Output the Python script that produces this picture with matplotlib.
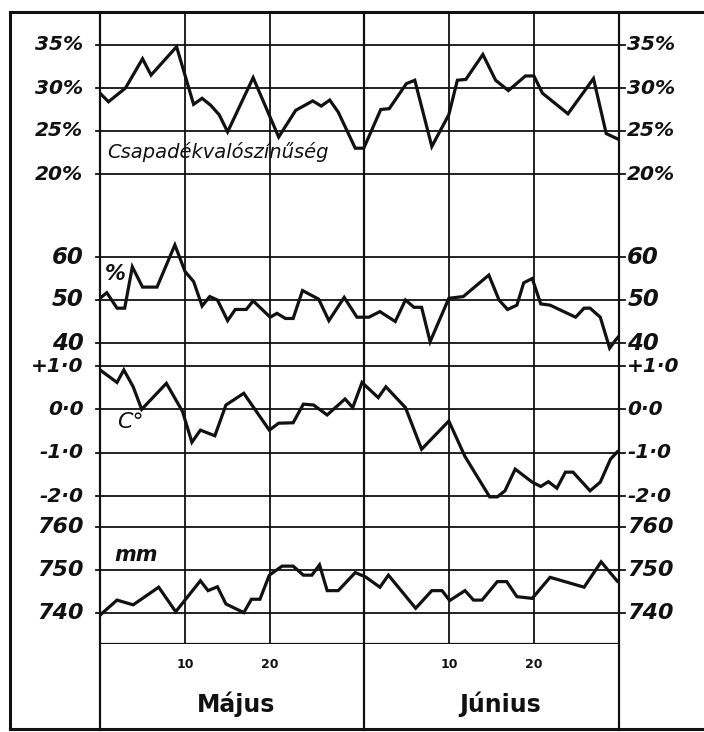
import matplotlib.pyplot as plt
from matplotlib.lines import Line2D

# days counted from 30 April: May 1..31 -> 1..31, June 1..30 -> 32..61
# (vertex positions of the hand-drawn lines)

# precipitation probability (%)
precip_day = [0, 1, 3, 5, 6, 9, 11, 12, 13, 14, 15, 18, 21, 23, 25, 26, 27, 28,
              30, 31, 33, 34, 36, 37, 39, 41, 42, 43, 45, 46.5, 48, 50, 51, 52,
              55, 58, 59.5, 61]
precip_val = [29.4, 28.4, 30.0, 33.4, 31.5, 34.8, 28.1, 28.8, 28.0, 26.9, 24.9,
              31.2, 24.3, 27.4, 28.5, 27.9, 28.6, 27.2, 23.0, 23.0, 27.5, 27.6,
              30.5, 30.9, 23.2, 26.9, 30.9, 31.0, 33.9, 30.9, 29.7, 31.4, 31.4,
              29.4, 27.0, 31.1, 24.7, 24.0]

# relative humidity (%)
hum_day = [0, 0.8, 2.0, 2.9, 3.8, 5.0, 6.7, 8.8, 10.0, 11.0, 12.0, 12.9, 13.8,
           15.0, 15.9, 17.2, 18.0, 20.0, 20.8, 21.8, 22.7, 23.8, 25.7, 26.9,
           28.7, 30.2, 31.6, 32.9, 34.7, 35.9, 36.9, 37.8, 38.8, 41.0, 42.7,
           45.7, 46.9, 47.9, 49.0, 49.8, 50.8, 51.8, 52.9, 55.9, 56.9, 57.6,
           58.8, 59.9, 60.6, 61.0]
hum_val = [50.4, 51.7, 48.1, 48.1, 57.7, 53.0, 53.0, 62.8, 56.6, 54.3, 48.6,
           50.8, 50.0, 45.2, 47.8, 47.8, 49.8, 46.0, 46.9, 45.7, 45.7, 52.2,
           50.2, 45.2, 50.6, 46.0, 46.0, 47.3, 45.0, 50.0, 48.3, 48.3, 40.3,
           50.4, 50.8, 55.8, 50.0, 47.8, 48.8, 54.0, 55.0, 49.1, 48.8, 46.0,
           48.1, 48.1, 46.0, 38.8, 40.7, 41.6]

# temperature anomaly (C)
temp_day = [0, 2.0, 2.8, 3.9, 4.9, 7.8, 9.7, 10.8, 11.8, 13.5, 14.8, 16.9, 19.9,
            21.0, 22.7, 23.9, 25.1, 26.7, 28.8, 29.7, 30.8, 32.7, 33.6, 35.9,
            37.8, 41.0, 42.9, 45.8, 46.7, 47.6, 48.8, 50.8, 51.8, 52.7, 53.7,
            54.7, 55.6, 57.6, 58.8, 60.0, 60.8]
temp_val = [0.91, 0.62, 0.91, 0.52, 0.0, 0.60, -0.05, -0.76, -0.48, -0.61, 0.10,
            0.37, -0.48, -0.32, -0.31, 0.12, 0.10, -0.13, 0.24, 0.04, 0.62, 0.27,
            0.52, 0.04, -0.92, -0.27, -1.09, -2.02, -2.02, -1.88, -1.38, -1.68,
            -1.78, -1.67, -1.82, -1.45, -1.45, -1.88, -1.68, -1.15, -0.98]

# air pressure (mm)
press_day = [0, 2.0, 3.9, 6.9, 8.9, 11.8, 12.7, 13.8, 14.8, 16.9, 17.8, 18.8,
             19.9, 21.4, 22.7, 23.9, 24.9, 25.8, 26.7, 28.0, 30.0, 31.2, 32.9,
             33.9, 37.1, 39.0, 40.2, 41.1, 42.9, 43.9, 44.9, 46.7, 47.8, 49.0,
             50.8, 52.9, 56.9, 58.9, 60.8]
press_val = [739.5, 743.0, 741.9, 746.0, 740.3, 747.5, 745.2, 746.1, 742.1,
             740.1, 743.2, 743.2, 748.8, 750.9, 750.9, 748.8, 748.8, 751.2,
             745.2, 745.2, 749.4, 748.4, 746.0, 748.8, 741.1, 745.2, 745.2,
             742.9, 745.2, 743.0, 743.0, 747.3, 747.3, 743.8, 743.4, 748.3,
             746.0, 751.9, 747.4]

precip_ticks = [35, 30, 25, 20]
precip_labels = ['35%', '30%', '25%', '20%']
hum_ticks = [60, 50, 40]
hum_labels = ['60', '50', '40']
temp_ticks = [1, 0, -1, -2]
temp_labels = ['+1·0', '0·0', '-1·0', '-2·0']
press_ticks = [760, 750, 740]
press_labels = ['760', '750', '740']

day_ticks = [10, 20, 41, 51]
day_labels = ['10', '20', '10', '20']
month_edges = [0, 31, 61]
months = ['Május', 'Június']
month_pos = [16, 47]

# =============================================================================

W, H = 704, 732
left_px, right_px, top_px, bot_px = 100, 619, 12, 644
ink = '#111111'


def band_ylim(v1, y1, v2, y2):
    # y-limits so that value v1 sits on pixel row y1 and v2 on row y2
    scale = (y2 - y1) / (v1 - v2)
    top = v1 + (y1 - top_px) / scale
    bottom = v2 - (bot_px - y2) / scale
    return bottom, top


fig = plt.figure(figsize=(W / 100, H / 100), dpi=100)
ax = fig.add_axes([left_px / W, 1 - bot_px / H,
                   (right_px - left_px) / W, (bot_px - top_px) / H])
ax.set_xlim(0, 61)

ax_h = ax.twinx()
ax_t = ax.twinx()
ax_p = ax.twinx()

# axes, limits, ticks, labels, label size, x, y
panels = [
    (ax, band_ylim(35, 45, 20, 174), precip_ticks, precip_labels, 14.5, precip_day, precip_val),
    (ax_h, band_ylim(60, 257, 40, 343), hum_ticks, hum_labels, 16.5, hum_day, hum_val),
    (ax_t, band_ylim(1, 366, -2, 496), temp_ticks, temp_labels, 14.5, temp_day, temp_val),
    (ax_p, band_ylim(760, 527, 740, 613), press_ticks, press_labels, 16, press_day, press_val),
]

for a, lim, ticks, labels, fs, xs, ys in panels:
    a.set_ylim(*lim)
    a.set_yticks([])
    tr = a.get_yaxis_transform()
    for t, lab in zip(ticks, labels):
        a.axhline(t, xmin=-0.008, xmax=1.012, color=ink, lw=1.3, clip_on=False)
        a.text(-0.032, t, lab, transform=tr, ha='right', va='center',
               fontsize=fs, fontstyle='italic', fontweight='bold', color=ink)
        a.text(1.016, t, lab, transform=tr, ha='left', va='center',
               fontsize=fs, fontstyle='italic', fontweight='bold', color=ink)
    a.plot(xs, ys, color=ink, lw=2.3, solid_joinstyle='miter', zorder=5)
    for s in a.spines.values():
        s.set_visible(False)
    a.patch.set_visible(False)

# day grid
for d in day_ticks:
    ax.axvline(d, color=ink, lw=1.3)
for d in month_edges:
    ax.axvline(d, ymin=-0.136, ymax=1, color=ink, lw=1.6, clip_on=False)
ax.axhline(ax.get_ylim()[0], color=ink, lw=1.6)

ax.set_xticks(day_ticks)
ax.set_xticklabels(day_labels, fontsize=9, fontweight='bold', color=ink)
ax.tick_params(axis='x', length=0, pad=10)

for m, pos in zip(months, month_pos):
    ax.text(pos, -0.095, m, transform=ax.get_xaxis_transform(), ha='center',
            va='center', fontsize=17, fontweight='bold', color=ink)

# series names
ax.text(0.9, 22.5, 'Csapadékvalószínűség', fontsize=14, fontstyle='italic',
        va='center', ha='left', color=ink)
ax_h.text(0.6, 56, '%', fontsize=15, fontstyle='italic', fontweight='bold',
          va='center', ha='left', color=ink)
ax_t.text(2.0, -0.3, 'C°', fontsize=16, fontstyle='italic', va='center',
          ha='left', color=ink)
ax_p.text(1.7, 753.5, 'mm', fontsize=15, fontstyle='italic', fontweight='bold',
          va='center', ha='left', color=ink)

# outer frame (right edge falls outside the scan)
fig.add_artist(Line2D([10 / W, 10 / W], [1 - 12 / H, 1 - 729 / H], color=ink, lw=2.2))
fig.add_artist(Line2D([10 / W, 1], [1 - 12 / H, 1 - 12 / H], color=ink, lw=2.2))
fig.add_artist(Line2D([10 / W, 1], [1 - 729 / H, 1 - 729 / H], color=ink, lw=2.2))

fig.savefig('out.png', dpi=100, facecolor='white')
